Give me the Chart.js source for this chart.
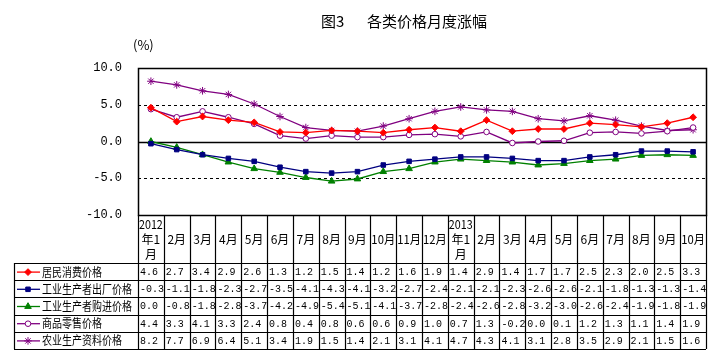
<!DOCTYPE html>
<html>
<head>
<meta charset="utf-8">
<script src="https://cdn.jsdelivr.net/npm/chart.js@4/dist/chart.umd.min.js"></script>
<style>
  body { margin: 0; background: #fff; }
  canvas { display: block; }
</style>
</head>
<body>
<canvas id="chart" width="717" height="362"></canvas>
<script>
// Months, split into lines for the table header.
let months = ['2012|年1|月', '2月', '3月', '4月', '5月', '6月', '7月', '8月', '9月', '10月', '11月', '12月',
  '2013|年1|月', '2月', '3月', '4月', '5月', '6月', '7月', '8月', '9月', '10月'];

let cpi      = [4.6, 2.7, 3.4, 2.9, 2.6, 1.3, 1.2, 1.5, 1.4, 1.2, 1.6, 1.9, 1.4, 2.9, 1.4, 1.7, 1.7, 2.5, 2.3, 2.0, 2.5, 3.3];
let ppi      = [-0.3, -1.1, -1.8, -2.3, -2.7, -3.5, -4.1, -4.3, -4.1, -3.2, -2.7, -2.4, -2.1, -2.1, -2.3, -2.6, -2.6, -2.1, -1.8, -1.3, -1.3, -1.4];
let purchase = [0.0, -0.8, -1.8, -2.8, -3.7, -4.2, -4.9, -5.4, -5.1, -4.1, -3.7, -2.8, -2.4, -2.6, -2.8, -3.2, -3.0, -2.6, -2.4, -1.9, -1.8, -1.9];
let retail   = [4.4, 3.3, 4.1, 3.3, 2.4, 0.8, 0.4, 0.8, 0.6, 0.6, 0.9, 1.0, 0.7, 1.3, -0.2, 0.0, 0.1, 1.2, 1.3, 1.1, 1.4, 1.9];
let agri     = [8.2, 7.7, 6.9, 6.4, 5.1, 3.4, 1.9, 1.5, 1.4, 2.1, 3.1, 4.1, 4.7, 4.3, 4.1, 3.1, 2.8, 3.5, 2.9, 2.1, 1.5, 1.6];

let seriesNames = ['居民消费价格', '工业生产者出厂价格', '工业生产者购进价格', '商品零售价格', '农业生产资料价格'];
let yTicks = [-10, -5, 0, 5, 10];

let titleNum = '图3';
let titleText = '各类价格月度涨幅';
let unitText = '(%)';

const CJK = "'Noto Sans CJK SC', sans-serif";
const MONO = "'Liberation Mono', monospace";

function makeSet(label, data, color, style, radius, bg) {
  return {
    label: label,
    data: data,
    borderColor: color,
    backgroundColor: bg || color,
    borderWidth: 1.3,
    tension: 0,
    pointStyle: style,
    pointRadius: radius,
    pointBorderColor: color,
    pointBackgroundColor: bg || color,
    pointBorderWidth: 1
  };
}

let datasets = [
  makeSet(seriesNames[0], cpi, '#ff0000', 'rectRot', 3.4),
  makeSet(seriesNames[1], ppi, '#000080', 'rect', 3.2),
  makeSet(seriesNames[2], purchase, '#008000', 'triangle', 3.8),
  makeSet(seriesNames[3], retail, '#800080', 'circle', 2.8, '#ffffff'),
  makeSet(seriesNames[4], agri, '#800080', 'star', 3.8)
];

// Gridlines, frame and the data table underneath.
const framePlugin = {
  id: 'frame',
  beforeDatasetsDraw(chart) {
    let ctx = chart.ctx;
    let a = chart.chartArea;
    let y = chart.scales.y;
    ctx.save();
    ctx.strokeStyle = '#000';
    ctx.lineWidth = 1;
    [5, -5].forEach(v => {
      let py = Math.round(y.getPixelForValue(v)) + 0.5;
      ctx.setLineDash([3, 3]);
      ctx.beginPath();
      ctx.moveTo(a.left, py);
      ctx.lineTo(a.right, py);
      ctx.stroke();
    });
    ctx.setLineDash([]);
    let p0 = Math.round(y.getPixelForValue(0)) + 0.5;
    ctx.lineWidth = 1.5;
    ctx.beginPath();
    ctx.moveTo(a.left, p0);
    ctx.lineTo(a.right, p0);
    ctx.stroke();
    ctx.strokeRect(Math.round(a.left) + 0.5, Math.round(a.top) + 0.5, Math.round(a.right - a.left), Math.round(a.bottom - a.top));
    ctx.restore();
  },
  afterDraw(chart) {
    let ctx = chart.ctx;
    let a = chart.chartArea;
    let x = chart.scales.x;
    let n = months.length;
    let w = (a.right - a.left) / n;
    let headTop = a.bottom;
    let headBottom = 263;
    let rowH = 17.2;
    let tableLeft = 14;
    let tableBottom = headBottom + rowH * seriesNames.length;

    ctx.save();
    ctx.fillStyle = '#000';
    ctx.textBaseline = 'middle';
    ctx.textAlign = 'left';
    ctx.font = '15px ' + CJK;
    ctx.fillText(titleNum, 321, 21);
    ctx.fillText(titleText, 367, 21);
    ctx.font = '13px ' + CJK;
    ctx.fillText(unitText, 133, 45);

    ctx.strokeStyle = '#000';
    ctx.lineWidth = 1.2;
    for (let i = 0; i <= n; i++) {
      let px = Math.round(a.left + i * w) + 0.5;
      ctx.beginPath();
      ctx.moveTo(px, headTop);
      ctx.lineTo(px, tableBottom);
      ctx.stroke();
    }
    ctx.beginPath();
    ctx.moveTo(tableLeft + 0.5, headBottom);
    ctx.lineTo(tableLeft + 0.5, tableBottom);
    ctx.stroke();
    for (let r = 0; r <= seriesNames.length; r++) {
      let py = Math.round(headBottom + r * rowH) + 0.5;
      ctx.beginPath();
      ctx.moveTo(tableLeft, py);
      ctx.lineTo(a.right, py);
      ctx.stroke();
    }

    months.forEach((m, i) => {
      let cx = x.getPixelForValue(i);
      let parts = m.split('|');
      ctx.textAlign = 'center';
      ctx.font = '12px ' + CJK;
      let mid = (headTop + headBottom) / 2;
      parts.forEach((p, k) => {
        let py = mid + (k - (parts.length - 1) / 2) * 15;
        ctx.fillText(p, cx, py, w - 2);
      });
    });

    datasets.forEach((ds, r) => {
      let cy = headBottom + r * rowH + rowH / 2 + 0.5;
      ctx.strokeStyle = ds.borderColor;
      ctx.lineWidth = 1.3;
      ctx.beginPath();
      ctx.moveTo(17, cy);
      ctx.lineTo(40, cy);
      ctx.stroke();
      ctx.fillStyle = ds.pointBackgroundColor;
      ctx.strokeStyle = ds.pointBorderColor;
      ctx.lineWidth = 1;
      Chart.helpers.drawPoint(ctx, {pointStyle: ds.pointStyle, radius: ds.pointRadius, rotation: 0, borderWidth: 1}, 28, cy);

      ctx.fillStyle = '#000';
      ctx.textAlign = 'left';
      ctx.font = '12px ' + CJK;
      ctx.fillText(ds.label, 42, cy, ds.label.length * 10);

      ctx.font = '11px ' + MONO;
      ds.data.forEach((v, i) => {
        let t = v.toFixed(1);
        let left = a.left + i * w;
        ctx.fillText(t, left + 2, cy, t.length * 6);
      });
    });
    ctx.restore();
  }
};

let chart = new Chart(document.getElementById('chart'), {
  type: 'line',
  data: { labels: months, datasets: datasets },
  options: {
    responsive: false,
    animation: false,
    layout: { padding: { top: 68, bottom: 147, right: 11, left: 0 } },
    plugins: { legend: { display: false }, tooltip: { enabled: false }, title: { display: false } },
    scales: {
      x: { type: 'category', offset: true, display: false },
      y: {
        min: -10, max: 10,
        afterFit: s => { s.width = 138; },
        afterBuildTicks: s => { s.ticks = yTicks.map(v => ({ value: v })); },
        grid: { display: false, drawTicks: false },
        border: { display: false },
        ticks: {
          padding: 16,
          color: '#000',
          font: { family: "'Liberation Mono', monospace", size: 12 },
          callback: v => v.toFixed(1)
        }
      }
    }
  },
  plugins: [framePlugin]
});
</script>
</body>
</html>
